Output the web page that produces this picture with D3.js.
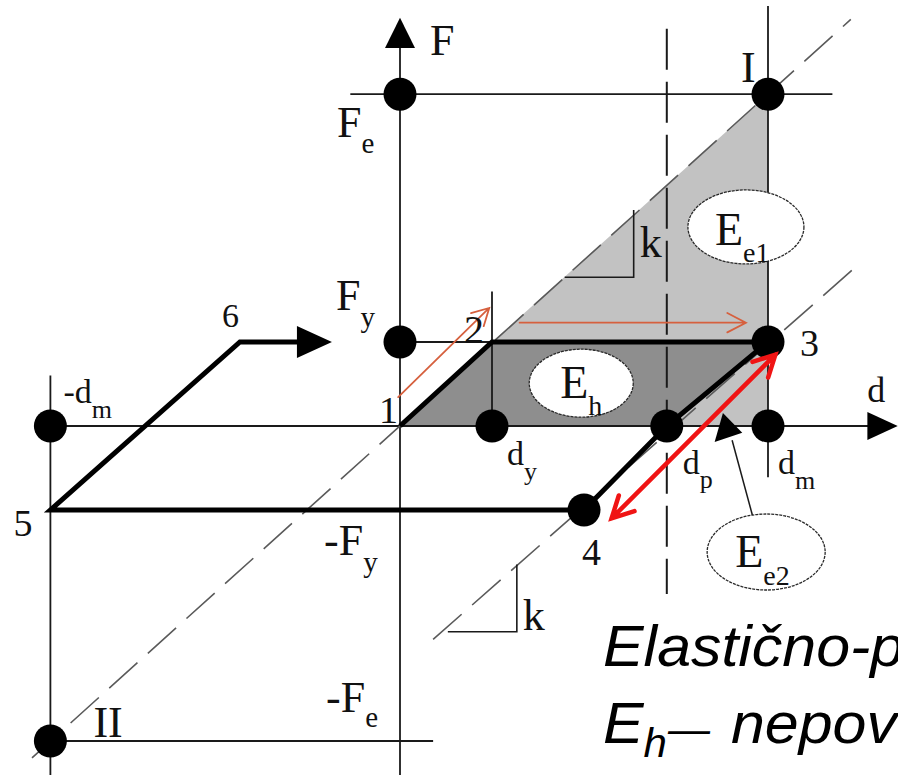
<!DOCTYPE html>
<html>
<head>
<meta charset="utf-8">
<script src="https://cdn.jsdelivr.net/npm/d3@7"></script>
<style>
  html, body { margin: 0; padding: 0; background: #fff; overflow: hidden; }
  svg { display: block; }
</style>
</head>
<body>
<script>
// Characteristic displacements (in units of d_y)
const dispNames  = ["d_y", "d_p", "d_m", "-d_m"];
const dispValues = [1.0, 2.9, 4.0, -3.8];
// Characteristic forces (in units of F_y)
const forceNames  = ["F_y", "F_e", "-F_y", "-F_e"];
const forceValues = [1.0, 3.95, -1.0, -3.75];

const [dY, dP, dM, dMn] = dispValues;
const [fY, fE, fYn, fEn] = forceValues;

// Loading path 1 → 2 → 3 → d_p → 4 → 5 → 6
const pathD = [0, dY, dM, dP, 2.0, dMn, -1.74, -1.11];
const pathF = [0, fY, fY, 0, fYn, fYn, fY, fY];

// Marked points (black dots)
const dotD = [0, 0, dY, dP, dM, dMn, dM, dM, 2.0, dMn];
const dotF = [fE, fY, 0, 0, 0, 0, fE, fY, fYn, fEn];

const W = 898, H = 775;
const x = d3.scaleLinear().domain([0, 1]).range([400, 492]);
const y = d3.scaleLinear().domain([0, 1]).range([426, 342]);

const svg = d3.select("body").append("svg")
  .attr("width", W).attr("height", H)
  .attr("viewBox", `0 0 ${W} ${H}`);

const line = d3.line().x(d => x(d[0])).y(d => y(d[1]));
const ink = "#1a1a1a";

// ---- shaded energy areas ----
svg.append("path")
  .attr("d", line([[dY, fY], [dM, fE], [dM, 0], [dP, 0]]) + "Z")
  .attr("fill", "#c2c2c2");
svg.append("path")
  .attr("d", line([[0, 0], [dY, fY], [dM, fY], [dP, 0]]) + "Z")
  .attr("fill", "#8e8e8e");

// ---- thin reference lines ----
const thin = [
  [[-0.54, fE], [4.7, fE]],
  [[-0.16, fY], [dY, fY]],
  [[dY, 1.6], [dY, 0]],
  [[dM, 5.0], [dM, -0.61]],
  [[dMn, 0.6], [dMn, -4.4]],
  [[dMn, fEn], [0.36, fEn]],
  [[0, -4.4], [0, 4.5]],
  [[dMn, 0], [5.1, 0]]
];
svg.append("g").selectAll("path").data(thin).join("path")
  .attr("d", d => line(d))
  .attr("stroke", ink).attr("stroke-width", 1.8).attr("fill", "none");

// axis arrowheads
svg.append("path")
  .attr("d", `M${x(0)},${y(4.86)} L${x(0) - 15},${y(4.5)} L${x(0) + 15},${y(4.5)} Z`)
  .attr("fill", "#000");
svg.append("path")
  .attr("d", `M${x(5.41)},${y(0)} L${x(5.08)},${y(0) - 14} L${x(5.08)},${y(0) + 14} Z`)
  .attr("fill", "#000");

// ---- dashed elastic lines (slope k) ----
const dashed = [
  [[-4.0, -3.95], [4.9, 4.84]],
  [[0.36, -2.54], [4.95, 1.89]]
];
svg.append("g").selectAll("path").data(dashed).join("path")
  .attr("d", d => line(d))
  .attr("stroke", "#5a5a5a").attr("stroke-width", 1.6)
  .attr("stroke-dasharray", "38,14").attr("fill", "none");

// vertical dashed line at d_p
svg.append("path")
  .attr("d", line([[dP, 4.73], [dP, -2.0]]))
  .attr("stroke", ink).attr("stroke-width", 2)
  .attr("stroke-dasharray", "41,12").attr("fill", "none");

// stiffness triangles
const kTri = [
  [[1.79, 1.77], [2.54, 1.77], [2.54, 2.57]],
  [[0.52, -2.45], [1.27, -2.45], [1.27, -1.65]]
];
svg.append("g").selectAll("path").data(kTri).join("path")
  .attr("d", d => line(d))
  .attr("stroke", ink).attr("stroke-width", 1.6).attr("fill", "none");

// ---- loading path ----
const pathPts = pathD.map((d, i) => [d, pathF[i]]);
svg.append("path")
  .attr("d", line(pathPts))
  .attr("stroke", "#000").attr("stroke-width", 5)
  .attr("stroke-linejoin", "miter").attr("fill", "none");
svg.append("path")
  .attr("d", `M${x(-0.74)},${y(fY)} L${x(-1.12)},${y(fY) - 16} L${x(-1.12)},${y(fY) + 16} Z`)
  .attr("fill", "#000");

// ---- energy labels (ellipses) ----
const ell = [
  { d: 3.76, f: 2.37, rx: 58, ry: 37 },
  { d: 1.97, f: 0.51, rx: 52, ry: 34 },
  { d: 3.98, f: -1.5, rx: 59, ry: 38 }
];
svg.append("g").selectAll("ellipse").data(ell).join("ellipse")
  .attr("cx", d => x(d.d)).attr("cy", d => y(d.f))
  .attr("rx", d => d.rx).attr("ry", d => d.ry)
  .attr("fill", "#fff").attr("stroke", "#2a2a2a")
  .attr("stroke-width", 1.3).attr("stroke-dasharray", "3,1");

// pointer from E_e2 to its area
svg.append("path")
  .attr("d", line([[3.83, -1.06], [3.61, -0.17]]))
  .attr("stroke", ink).attr("stroke-width", 1.5);
svg.append("path")
  .attr("d", line([[3.51, 0.155], [3.42, -0.19], [3.72, -0.08]]) + "Z")
  .attr("fill", "#000");

// ---- dots ----
svg.append("g").selectAll("circle").data(dotD.map((d, i) => [d, dotF[i]])).join("circle")
  .attr("cx", d => x(d[0])).attr("cy", d => y(d[1])).attr("r", 16.5)
  .attr("fill", "#000");

// ---- arrows ----
function chevron(x1, y1, x2, y2, len, ang) {
  const a = Math.atan2(y2 - y1, x2 - x1);
  const p1 = [x2 - len * Math.cos(a - ang), y2 - len * Math.sin(a - ang)];
  const p2 = [x2 - len * Math.cos(a + ang), y2 - len * Math.sin(a + ang)];
  return `M${p1[0]},${p1[1]} L${x2},${y2} L${p2[0]},${p2[1]}`;
}
function arrow(a, b, color, width, len, ang, both) {
  const [x1, y1, x2, y2] = [x(a[0]), y(a[1]), x(b[0]), y(b[1])];
  let d = `M${x1},${y1} L${x2},${y2} ` + chevron(x1, y1, x2, y2, len, ang);
  if (both) d += " " + chevron(x2, y2, x1, y1, len, ang);
  svg.append("path").attr("d", d).attr("stroke", color)
    .attr("stroke-width", width).attr("fill", "none")
    .attr("stroke-linecap", "round").attr("stroke-linejoin", "miter");
}
const orange = "#d6603e";
arrow([-0.02, 0.345], [0.97, 1.405], orange, 1.8, 19, 0.5, false);
arrow([1.30, 1.23], [3.76, 1.23], orange, 1.8, 21, 0.48, false);
arrow([2.30, -1.10], [4.08, 0.85], "#f01414", 4.5, 24, 0.48, true);

// ---- labels ----
const serif = "'Liberation Serif','Times New Roman',serif";
const labels = [
  { t: "F", px: x(0) + 30, py: y(4.5) + 7, fs: 44 },
  { t: "F", s: "e", px: x(0) - 63, py: y(fE) + 43, fs: 44, sfs: 29, sdy: 16 },
  { t: "F", s: "y", px: x(0) - 64, py: y(fY) - 32, fs: 44, sfs: 29, sdy: 17 },
  { t: "-d", s: "m", px: x(dMn) + 13, py: y(0) - 23, fs: 34, sfs: 26, sdy: 15 },
  { t: "6", px: x(-1.74) - 18, py: y(fY) - 15, fs: 34 },
  { t: "1", px: x(0) - 21, py: y(0) - 3, fs: 38 },
  { t: "5", px: x(dMn) - 37, py: y(fYn) + 26, fs: 38 },
  { t: "2", px: x(dY) - 28, py: y(fY) + 1, fs: 40 },
  { t: "3", px: x(dM) + 32, py: y(fY) + 14, fs: 38 },
  { t: "4", px: x(2.0) - 2, py: y(fYn) + 55, fs: 38 },
  { t: "d", px: x(5.1) - 2, py: y(0) - 24, fs: 36 },
  { t: "d", s: "y", px: x(dY) + 15, py: y(0) + 39, fs: 34, sfs: 26, sdy: 15 },
  { t: "d", s: "p", px: x(dP) + 16, py: y(0) + 48, fs: 34, sfs: 26, sdy: 14 },
  { t: "d", s: "m", px: x(dM) + 10, py: y(0) + 48, fs: 34, sfs: 26, sdy: 15 },
  { t: "I", px: x(dM) - 27, py: y(fE) - 12, fs: 44 },
  { t: "II", px: x(dMn) + 43, py: y(fEn) - 4, fs: 44 },
  { t: "-F", s: "y", px: x(0) - 76, py: y(fYn) + 45, fs: 44, sfs: 29, sdy: 17 },
  { t: "-F", s: "e", px: x(0) - 74, py: y(fEn) - 29, fs: 44, sfs: 29, sdy: 15 },
  { t: "k", px: x(2.54) + 6, py: y(2.2) + 16, fs: 44 },
  { t: "k", px: x(1.27) + 6, py: y(-2.45) - 2, fs: 44 },
  { t: "E", s: "e1", px: x(3.76) - 31, py: y(2.37) + 18, fs: 46, sfs: 28, sdy: 17 },
  { t: "E", s: "h", px: x(1.97) - 21, py: y(0.51) + 15, fs: 46, sfs: 28, sdy: 17 },
  { t: "E", s: "e2", px: x(3.98) - 31, py: y(-1.5) + 15, fs: 46, sfs: 28, sdy: 18 }
];
const lab = svg.append("g").attr("font-family", serif).attr("fill", "#111");
labels.forEach(l => {
  const t = lab.append("text").attr("x", l.px).attr("y", l.py).attr("font-size", l.fs);
  t.append("tspan").text(l.t);
  if (l.s) t.append("tspan").attr("dy", l.sdy).attr("font-size", l.sfs).text(l.s);
});

// ---- caption ----
const cap = svg.append("g")
  .attr("transform", "translate(603,0) scale(1.05,1) translate(-603,0)")
  .attr("font-family", "'Liberation Sans',Arial,sans-serif")
  .attr("font-style", "italic").attr("fill", "#000");
cap.append("text").attr("x", 603).attr("y", 666).attr("font-size", 58)
  .text("Elastično-plastični sistem");
const c2 = cap.append("text").attr("x", 603).attr("y", 743).attr("font-size", 58);
c2.append("tspan").text("E");
c2.append("tspan").attr("dy", 14).attr("font-size", 40).text("h");
c2.append("tspan").attr("dy", -14).attr("dx", 1).attr("font-size", 40).text("\u2014");
c2.append("tspan").attr("dx", 20).attr("font-size", 58).text("nepovratna energija");
</script>
</body>
</html>
